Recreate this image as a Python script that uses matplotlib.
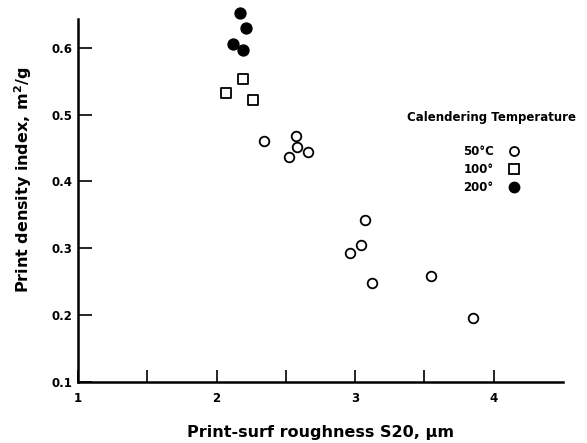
import matplotlib.pyplot as plt
from matplotlib.lines import Line2D

# calendering temperature groups
x_50 = [2.34, 2.57, 2.58, 2.66, 2.52, 3.07, 3.04, 2.96, 3.12, 3.55, 3.85]
y_50 = [0.460, 0.468, 0.451, 0.444, 0.437, 0.343, 0.305, 0.293, 0.248, 0.258, 0.195]
x_100 = [2.19, 2.07, 2.26]
y_100 = [0.553, 0.533, 0.522]
x_200 = [2.17, 2.21, 2.12, 2.19]
y_200 = [0.652, 0.630, 0.606, 0.597]

labels = ["50°C", "100°", "200°"]
xticks = [1, 1.5, 2, 2.5, 3, 3.5, 4]
xticklabels = ["1", "", "2", "", "3", "", "4"]
yticks = [0.1, 0.2, 0.3, 0.4, 0.5, 0.6]

plt.rcParams['font.family'] = ['DejaVu Sans']
plt.rcParams['font.weight'] = 'bold'

fig = plt.figure(figsize=(5.87, 4.43), dpi=100)
ax = fig.add_axes([0.133, 0.138, 0.826, 0.819])

ax.scatter(x_50, y_50, s=48, facecolors='white', edgecolors='black', linewidths=1.3, clip_on=False, zorder=3)
ax.scatter(x_100, y_100, s=48, marker='s', facecolors='white', edgecolors='black', linewidths=1.3, clip_on=False, zorder=3)
ax.scatter(x_200, y_200, s=62, c='black', clip_on=False, zorder=3)

ax.set_xlim(1, 4.5)
ax.set_ylim(0.1, 0.643)
ax.spines['top'].set_visible(False)
ax.spines['right'].set_visible(False)
ax.spines['left'].set_linewidth(1.8)
ax.spines['bottom'].set_linewidth(1.8)

ax.set_xticks(xticks)
ax.set_xticklabels(xticklabels)
ax.set_yticks(yticks)
ax.set_yticklabels(["{:.1f}".format(v) for v in yticks])
ax.tick_params(axis='x', direction='in', length=9, width=1.2, pad=7, labelsize=8.5)
ax.tick_params(axis='y', direction='in', length=10, width=1.2, pad=4, labelsize=8.5)

ax.set_xlabel("Print-surf roughness S20, µm", fontsize=11.5, fontweight='bold')
ax.set_ylabel("Print density index, m$^\\mathbf{2}$/g", fontsize=11.5, fontweight='bold')
ax.xaxis.set_label_coords(0.5, -0.118)
ax.yaxis.set_label_coords(-0.09, 0.556)

handles = [
    Line2D([], [], ls='none', marker='o', ms=6.5, mfc='white', mec='black', mew=1.3),
    Line2D([], [], ls='none', marker='s', ms=6.5, mfc='white', mec='black', mew=1.3),
    Line2D([], [], ls='none', marker='o', ms=7.5, mfc='black', mec='black'),
]
leg = ax.legend(handles, labels, title="Calendering Temperature", frameon=False,
                markerfirst=False, loc='upper center', bbox_to_anchor=(0.852, 0.776),
                fontsize=8.5, title_fontsize=8.5, handlelength=1.0, handletextpad=1.2,
                labelspacing=0.45, alignment='center')
leg.get_title().set_fontweight('bold')
leg._legend_box.sep = 15

fig.savefig("out.png", dpi=100)
